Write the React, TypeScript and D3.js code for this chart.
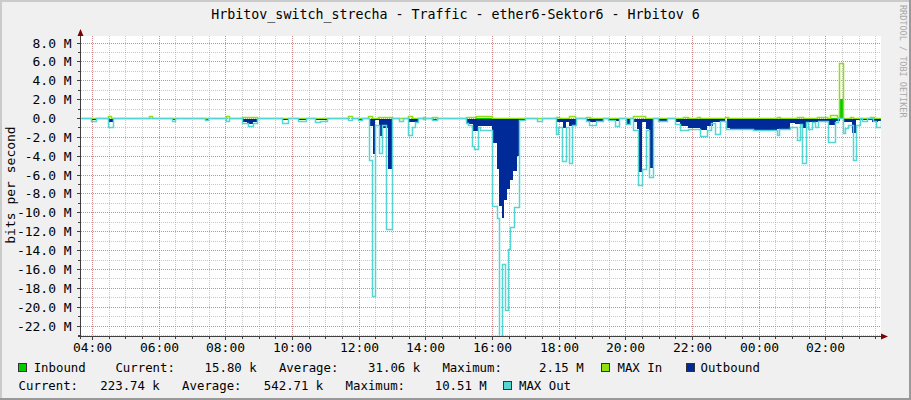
import React from "react";
import * as d3 from "d3";

// ---------- data ----------
const TITLE = "Hrbitov_switch_strecha - Traffic - ether6-Sektor6 - Hrbitov 6";
const Y_TITLE = "bits per second";
const WATERMARK = "RRDTOOL / TOBI OETIKER";
const START_HOUR = 3;
const START_MIN = 40;
const SPAN_MIN = 1440;

const xTickLabels = ["04:00", "06:00", "08:00", "10:00", "12:00", "14:00", "16:00", "18:00", "20:00", "22:00", "00:00", "02:00"];
const yTickValues = [8, 6, 4, 2, 0, -2, -4, -6, -8, -10, -12, -14, -16, -18, -20, -22];
const yDomain = [-23.05, 8.745];

// segments: [startMinute (since 03:40), endMinute, value in Mbit/s]
type Seg = [number, number, number];

const inboundSegs: Seg[] = [
  [711, 740, 0.08],
  [1348, 1361, 0.1],
  [1366, 1371, 2.15],
];

const maxInSegs: Seg[] = [
  [49, 54, 0.2], [122, 128, 0.2], [261, 266, 0.2], [290, 317, 0.1], [481, 488, 0.2],
  [517, 524, 0.25], [535, 560, 0.15], [589, 596, 0.25], [616, 619, 0.15], [632, 641, 0.1],
  [693, 711, 0.15], [711, 740, 0.25], [855, 860, 0.1], [878, 889, 0.25], [909, 916, 0.1],
  [994, 1015, 0.2], [1084, 1093, 0.1], [1109, 1114, 0.1], [1159, 1165, 0.1], [1253, 1258, 0.1],
  [1289, 1300, 0.1], [1325, 1343, 0.1], [1348, 1361, 0.3], [1364, 1371, 5.85], [1384, 1390, 0.1],
  [1420, 1427, 0.1],
];

const outboundSegs: Seg[] = [
  [18, 27, 0.1], [49, 58, 0.35], [164, 169, 0.1], [223, 229, 0.1],
  [290, 299, 0.3], [299, 310, 0.5], [310, 317, 0.3], [362, 373, 0.15], [391, 405, 0.1],
  [421, 443, 0.15], [499, 506, 0.1],
  [518, 526, 0.7], [526, 530, 3.7], [530, 536, 0.1], [536, 542, 1.75], [542, 553, 1.0], [553, 559, 5.3],
  [572, 580, 0.05], [590, 607, 0.35], [616, 619, 0.1], [632, 641, 0.15],
  [693, 706, 0.5], [706, 715, 1.3], [715, 740, 0.7], [740, 749, 2.5], [749, 753, 5.3], [753, 758, 9.2],
  [758, 762, 10.51], [762, 767, 8.6], [767, 772, 7.4], [772, 778, 6.5], [778, 785, 5.5], [785, 789, 3.9],
  [789, 799, 0.2],
  [855, 868, 0.35], [868, 873, 1.0], [873, 878, 0.3], [878, 891, 0.7], [909, 940, 0.3], [949, 970, 0.2],
  [981, 988, 0.5], [994, 1001, 0.3], [1001, 1005, 1.1], [1005, 1010, 5.6], [1010, 1017, 0.3],
  [1017, 1022, 1.1], [1022, 1029, 5.2], [1039, 1055, 0.3],
  [1069, 1078, 0.3], [1078, 1093, 0.75], [1093, 1114, 0.9], [1114, 1127, 1.2], [1127, 1138, 0.7],
  [1138, 1150, 0.35], [1150, 1159, 0.25], [1163, 1168, 0.9], [1168, 1210, 1.05], [1210, 1253, 1.15],
  [1253, 1276, 1.05], [1276, 1285, 0.4], [1285, 1298, 0.5], [1298, 1305, 1.0], [1305, 1346, 0.3],
  [1346, 1359, 0.6], [1359, 1366, 0.2], [1372, 1388, 0.3], [1388, 1395, 1.5], [1395, 1424, 0.15],
  [1424, 1435, 0.3], [1435, 1440, 0.22],
];

const maxOutSegs: Seg[] = [
  [18, 27, 0.3], [49, 58, 1.0], [164, 169, 0.3], [223, 229, 0.25], [261, 266, 0.3],
  [290, 301, 0.5], [301, 310, 0.8], [310, 317, 0.5], [362, 373, 0.5], [391, 405, 0.3],
  [421, 430, 0.45], [430, 443, 0.3], [481, 488, 0.2], [499, 506, 0.2],
  [518, 524, 4.4], [524, 530, 18.9], [530, 536, 0.75], [536, 542, 3.7], [542, 549, 0.75], [549, 559, 11.8],
  [572, 580, 0.3], [589, 596, 1.75], [596, 601, 1.0], [601, 607, 0.4], [616, 619, 0.15], [632, 641, 0.2],
  [693, 697, 0.5], [697, 704, 0.7], [704, 707, 3.0], [707, 715, 3.3], [715, 718, 1.0], [718, 740, 1.3],
  [740, 749, 9.35], [749, 752, 10.6], [752, 758, 24], [758, 763, 15.5], [763, 769, 20.3], [769, 773, 13.9],
  [773, 779, 11.5], [779, 789, 9.4], [789, 799, 0.25], [821, 830, 0.35],
  [855, 859, 1.7], [859, 866, 0.9], [866, 873, 4.6], [873, 878, 0.9], [878, 884, 4.75], [884, 891, 0.7],
  [909, 914, 0.35], [914, 927, 0.7], [927, 940, 0.3], [949, 961, 0.2], [961, 968, 0.8], [981, 988, 0.6],
  [994, 1002, 1.3], [1002, 1010, 7.1], [1010, 1017, 5.4], [1017, 1022, 1.3], [1022, 1029, 6.3],
  [1039, 1055, 0.35], [1069, 1078, 0.6], [1078, 1093, 1.3], [1093, 1114, 1.15], [1114, 1127, 1.9],
  [1127, 1134, 1.3], [1134, 1141, 0.5], [1141, 1150, 1.7], [1150, 1161, 0.35], [1161, 1168, 1.2],
  [1168, 1210, 1.2], [1210, 1253, 1.3], [1253, 1257, 1.85], [1257, 1276, 1.15], [1276, 1289, 0.9],
  [1289, 1294, 2.3], [1294, 1298, 0.6], [1298, 1305, 4.75], [1305, 1309, 0.4], [1309, 1316, 1.15],
  [1316, 1321, 0.4], [1321, 1326, 0.9], [1326, 1345, 0.3], [1345, 1357, 2.5], [1357, 1363, 0.4],
  [1372, 1375, 1.6], [1375, 1381, 1.1], [1381, 1390, 0.7], [1390, 1395, 4.4], [1395, 1402, 0.7],
  [1406, 1415, 0.35], [1426, 1431, 0.3], [1431, 1440, 1.0],
];

const legendLine1 = "Inbound    Current:    15.80 k   Average:    31.06 k   Maximum:     2.15 M";
const legendLine2 = "Current:   223.74 k   Average:   542.71 k   Maximum:    10.51 M";

// ---------- styles ----------
const COLORS = {
  back: "#F0F0F0",
  canvas: "#FFFFFF",
  shadeA: "#CBCBCB",
  shadeB: "#999999",
  grid: "rgba(143,143,143,0.5)",
  mgrid: "rgba(222,80,80,0.5)",
  axis: "#404040",
  arrow: "#7F0000",
  inbound: "#00CC00",
  maxIn: "#8FE010",
  outbound: "#002A97",
  maxOut: "#55D6D3",
  font: "#000000",
};
const FONT = "'DejaVu Sans Mono', monospace";

const W = 911;
const H = 400;
const PL = 81, PR = 881, PT = 36, PB = 336;

const start = new Date(2024, 0, 1, START_HOUR, START_MIN);
const toDate = (m: number) => new Date(start.getTime() + m * 60000);
const parseClock = (s: string) => {
  const [h, m] = s.split(":").map(Number);
  let mins = h * 60 + m - (START_HOUR * 60 + START_MIN);
  if (mins < 0) mins += 1440;
  return toDate(mins);
};

function steps(segs: Seg[], sign: number): [number, number][] {
  const pts: [number, number][] = [[0, 0]];
  let prevEnd = -1;
  for (const [a, b, v] of segs) {
    if (a === prevEnd) {
      pts.pop();
      pts.push([a, sign * v]);
    } else {
      pts.push([a, 0], [a, sign * v]);
    }
    pts.push([b, sign * v], [b, 0]);
    prevEnd = b;
  }
  pts.push([SPAN_MIN, 0]);
  return pts;
}

export default function App() {
  const x = d3.scaleTime().domain([start, toDate(SPAN_MIN)]).range([PL, PR]);
  const y = d3.scaleLinear().domain(yDomain).range([PB, PT]);

  const minorX = x.ticks(d3.timeMinute.every(30) as any).filter((d) => x(d) > PL && x(d) < PR);
  const majorX = xTickLabels.map(parseClock);
  const minorY = d3.range(Math.ceil(yDomain[0]), Math.floor(yDomain[1]) + 1);

  const px = (d: [number, number]) => Math.round(x(toDate(d[0])));
  const lineGen = d3
    .line<[number, number]>()
    .x((d) => px(d) + 0.5)
    .y((d) => Math.floor(y(d[1])) + 0.5);
  const areaGen = d3
    .area<[number, number]>()
    .x(px)
    .y0(Math.floor(y(0)) + 0.5)
    .y1((d) => Math.floor(y(d[1])) + 0.5);

  const inPts = steps(inboundSegs, 1);
  const maxInPts = steps(maxInSegs, 1);
  const outPts = steps(outboundSegs, -1);
  const maxOutPts = steps(maxOutSegs, -1);

  const yLabel = (v: number) => (v === 0 ? "0.0" : `${v.toFixed(1)} M`);

  return (
    <svg width={W} height={H} style={{ display: "block", position: "absolute", left: 0, top: 0 }} fontFamily={FONT}>
      <defs>
        <clipPath id="plot">
          <rect x={PL} y={PT} width={PR - PL} height={PB - PT} />
        </clipPath>
      </defs>
      <rect x={0} y={0} width={W} height={H} fill={COLORS.back} />
      {/* shade frame */}
      <rect x={0} y={0} width={W} height={2} fill={COLORS.shadeA} />
      <rect x={0} y={0} width={2} height={H} fill={COLORS.shadeA} />
      <rect x={0} y={H - 2} width={W} height={2} fill={COLORS.shadeB} />
      <rect x={W - 2} y={0} width={2} height={H} fill={COLORS.shadeB} />
      <rect x={PL} y={PT} width={PR - PL} height={PB - PT} fill={COLORS.canvas} />

      {/* grid */}
      <g shapeRendering="crispEdges">
        {minorX.map((d, i) => (
          <line key={"mx" + i} x1={Math.round(x(d)) + 0.5} x2={Math.round(x(d)) + 0.5} y1={PT} y2={PB}
            stroke={COLORS.grid} strokeDasharray="1,1" />
        ))}
        {minorY.map((v) => (
          <line key={"my" + v} x1={PL} x2={PR} y1={Math.floor(y(v)) + 0.5} y2={Math.floor(y(v)) + 0.5}
            stroke={COLORS.grid} strokeDasharray="1,1" />
        ))}
        {majorX.map((d, i) => (
          <line key={"Mx" + i} x1={Math.round(x(d)) + 0.5} x2={Math.round(x(d)) + 0.5} y1={PT} y2={PB}
            stroke={COLORS.mgrid} strokeDasharray="1,1" />
        ))}
        {yTickValues.map((v) => (
          <line key={"My" + v} x1={PL} x2={PR} y1={Math.floor(y(v)) + 0.5} y2={Math.floor(y(v)) + 0.5}
            stroke={COLORS.mgrid} strokeDasharray="1,1" />
        ))}
      </g>

      {/* data */}
      <g clipPath="url(#plot)">
        <path d={areaGen(inPts) || ""} fill={COLORS.inbound} shapeRendering="crispEdges" />
        <path d={lineGen(maxInPts) || ""} fill="none" stroke={COLORS.maxIn} strokeWidth={1.5} />
        <path d={areaGen(outPts) || ""} fill={COLORS.outbound} shapeRendering="crispEdges" />
        <path d={lineGen(maxOutPts) || ""} fill="none" stroke={COLORS.maxOut} strokeWidth={1.5} />
      </g>

      {/* axes */}
      <g shapeRendering="crispEdges" stroke={COLORS.axis}>
        <line x1={PL - 0.5} x2={PL - 0.5} y1={PB + 3} y2={PT - 4} />
        <line x1={PL - 3} x2={PR + 2} y1={PB + 0.5} y2={PB + 0.5} />
        {minorX.map((d, i) => (
          <line key={"tx" + i} x1={Math.round(x(d)) + 0.5} x2={Math.round(x(d)) + 0.5} y1={PB + 1} y2={PB + 3} />
        ))}
        {majorX.map((d, i) => (
          <line key={"tX" + i} x1={Math.round(x(d)) + 0.5} x2={Math.round(x(d)) + 0.5} y1={PB + 1} y2={PB + 4} />
        ))}
        {minorY.map((v) => (
          <line key={"ty" + v} x1={PL - 3} x2={PL - 1} y1={Math.floor(y(v)) + 0.5} y2={Math.floor(y(v)) + 0.5} />
        ))}
        {yTickValues.map((v) => (
          <line key={"tY" + v} x1={PL - 4} x2={PL - 1} y1={Math.floor(y(v)) + 0.5} y2={Math.floor(y(v)) + 0.5} />
        ))}
      </g>
      <polygon points={`${PL - 3.5},${PT} ${PL + 2.5},${PT} ${PL - 0.5},${PT - 7}`} fill={COLORS.arrow} />
      <polygon points={`${PR},${PB - 2.5} ${PR},${PB + 3.5} ${PR + 7},${PB + 0.5}`} fill={COLORS.arrow} />

      {/* tick labels */}
      <g fontSize={13} fill={COLORS.font}>
        {yTickValues.map((v) => (
          <text key={"yl" + v} x={v === 0 ? 71.7 - 2 * 7.83 : 71.7} y={Math.floor(y(v)) + 5} textAnchor="end">
            {yLabel(v)}
          </text>
        ))}
        {majorX.map((d, i) => (
          <text key={"xl" + i} x={Math.round(x(d)) + 0.5} y={352} textAnchor="middle">
            {xTickLabels[i]}
          </text>
        ))}
        <text transform="translate(14.5,185) rotate(-90)" textAnchor="middle">{Y_TITLE}</text>
      </g>

      {/* title */}
      <text x={455.5} y={18.5} textAnchor="middle" fontSize={13.3} fill={COLORS.font}>{TITLE}</text>

      {/* watermark */}
      <text transform="translate(899.5,5) rotate(90)" fontSize={8.5} fill="#A8A8A8">{WATERMARK}</text>

      {/* legend */}
      <g fontSize={12.35} fill={COLORS.font} style={{ whiteSpace: "pre" }}>
        <rect x={18.5} y={363.5} width={8} height={8} fill={COLORS.inbound} stroke="#333" />
        <text x={33.7} y={372} xmlSpace="preserve">{legendLine1}</text>
        <rect x={601.5} y={363.5} width={8} height={8} fill={COLORS.maxIn} stroke="#333" />
        <text x={617.5} y={372}>MAX In</text>
        <rect x={686.5} y={363.5} width={8} height={8} fill={COLORS.outbound} stroke="#333" />
        <text x={700.5} y={372}>Outbound</text>
        <text x={18.6} y={390} xmlSpace="preserve">{legendLine2}</text>
        <rect x={503.5} y={381.5} width={8} height={8} fill={COLORS.maxOut} stroke="#333" />
        <text x={519} y={390}>MAX Out</text>
      </g>
    </svg>
  );
}
